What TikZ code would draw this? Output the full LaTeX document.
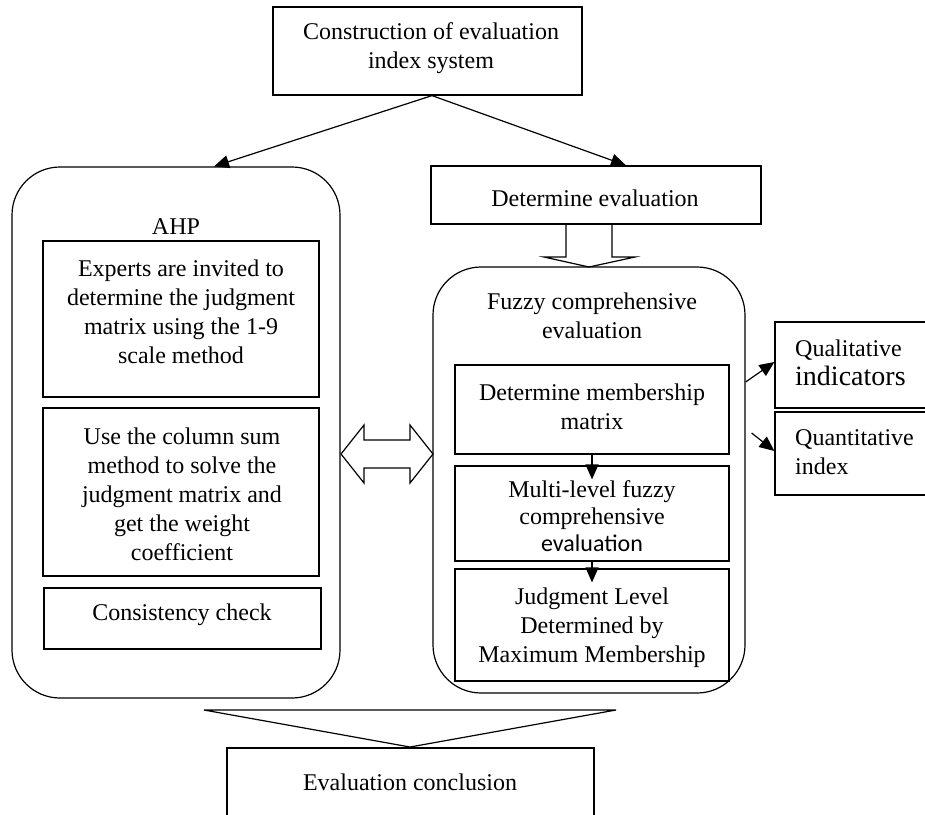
\documentclass[tikz,border=0pt]{standalone}
\usepackage{fontspec}
\setmainfont{Liberation Serif}
\newfontfamily\calfont{Carlito}
\usetikzlibrary{arrows.meta,calc}
\begin{document}
\begin{tikzpicture}[x=1pt,y=-1pt,
  box/.style={draw,line width=1.2pt,inner sep=0pt},
  rbox/.style={draw,line width=1.2pt,rounded corners=48pt,inner sep=0pt},
  txt/.style={align=center,inner sep=0pt,font=\fontsize{24}{29}\selectfont},
  ltxt/.style={align=left,inner sep=0pt,anchor=west,font=\fontsize{24}{29}\selectfont},
  arr/.style={line width=1.2pt,-{Triangle[length=15pt,width=13pt]}},
  hollow/.style={draw,line width=1.2pt,line join=miter}]
\clip (0,0) rectangle (925,814);
\fill[white] (0,0) rectangle (925,814);
% hollow shapes
\draw[hollow] (566,224) -- (566,257) -- (544,257) -- (589,267) -- (635,257) -- (612,257) -- (612,224);
\draw[hollow] (341,454) -- (364,425) -- (364,440) -- (410,440) -- (410,425) -- (433,454)
  -- (410,483) -- (410,468) -- (364,468) -- (364,483) -- cycle;
\draw[hollow] (204,710) -- (616,710) -- (410,747) -- cycle;
% top
\node[box,minimum width=309pt,minimum height=88pt] (top) at (427.5,51) {};
\node[txt] (toptxt) at (431,48) {Construction of evaluation\\index system};
% AHP
\node[rbox,minimum width=328pt,minimum height=531pt] (ahp) at (176,432.5) {};
\node[txt] (ahpt) at (176,227) {AHP};
\node[box,minimum width=276pt,minimum height=156pt] (exp) at (181,319) {};
\node[txt] (expt) at (181,311.5) {Experts are invited to\\determine the judgment\\matrix using the 1-9\\scale method};
\node[box,minimum width=276pt,minimum height=168pt] (col) at (181,492) {};
\node[txt] (colt) at (182,494) {Use the column sum\\method to solve the\\judgment matrix and\\get the weight\\coefficient};
\node[box,minimum width=277pt,minimum height=61pt] (cons) at (182.5,618.5) {};
\node[txt] (const) at (182,615) {Consistency check};
% determine evaluation
\node[box,minimum width=330pt,minimum height=58pt] (det) at (596,195) {};
\node[txt] (dett) at (595,198) {Determine evaluation};
% fuzzy
\node[rbox,minimum width=312pt,minimum height=426pt] (fuz) at (589,480) {};
\node[txt] (fuzt) at (592,316) {Fuzzy comprehensive\\evaluation};
\node[box,minimum width=274pt,minimum height=89pt] (b1) at (592,409.5) {};
\node[txt] (b1t) at (592,407) {Determine membership\\matrix};
\node[box,minimum width=274pt,minimum height=95pt] (b2) at (592,513.5) {};
\node[txt,font=\fontsize{24}{27}\selectfont] (b2t) at (592,516.5) {Multi-level fuzzy\\comprehensive\\{\calfont evaluation}};
\node[box,minimum width=274pt,minimum height=112pt] (b3) at (592,625) {};
\node[txt] (b3t) at (592,627.5) {Judgment Level\\Determined by\\Maximum Membership};
% right boxes
\node[box,minimum width=160pt,minimum height=86pt] (qual) at (855,365) {};
\node[ltxt] (qualt) at (795,363) {Qualitative\\{\fontsize{28}{29}\selectfont indicators}};
\node[box,minimum width=160pt,minimum height=83pt] (quant) at (855,453.5) {};
\node[ltxt] (quantt) at (795,452.5) {Quantitative\\index};
% conclusion
\node[box,minimum width=367pt,minimum height=82pt] (conc) at (410.5,789) {};
\node[txt] (conct) at (410,782) {Evaluation conclusion};
% arrows
\draw[arr] ([xshift=4.5pt]top.south) -- ([xshift=38pt]ahp.north);
\draw[arr] ([xshift=4.5pt]top.south) -- ([xshift=30pt]det.north);
\draw[arr] (b1.south) -- ([yshift=-14pt]b2.north);
\draw[arr] (b2.south) -- ([yshift=-14pt]b3.north);
\draw[arr] ([yshift=98pt]fuz.east) -- ([yshift=3pt]qual.west);
\draw[arr] ([xshift=6pt,yshift=47pt]fuz.east) -- ([yshift=2.5pt]quant.west);
\end{tikzpicture}
\end{document}
